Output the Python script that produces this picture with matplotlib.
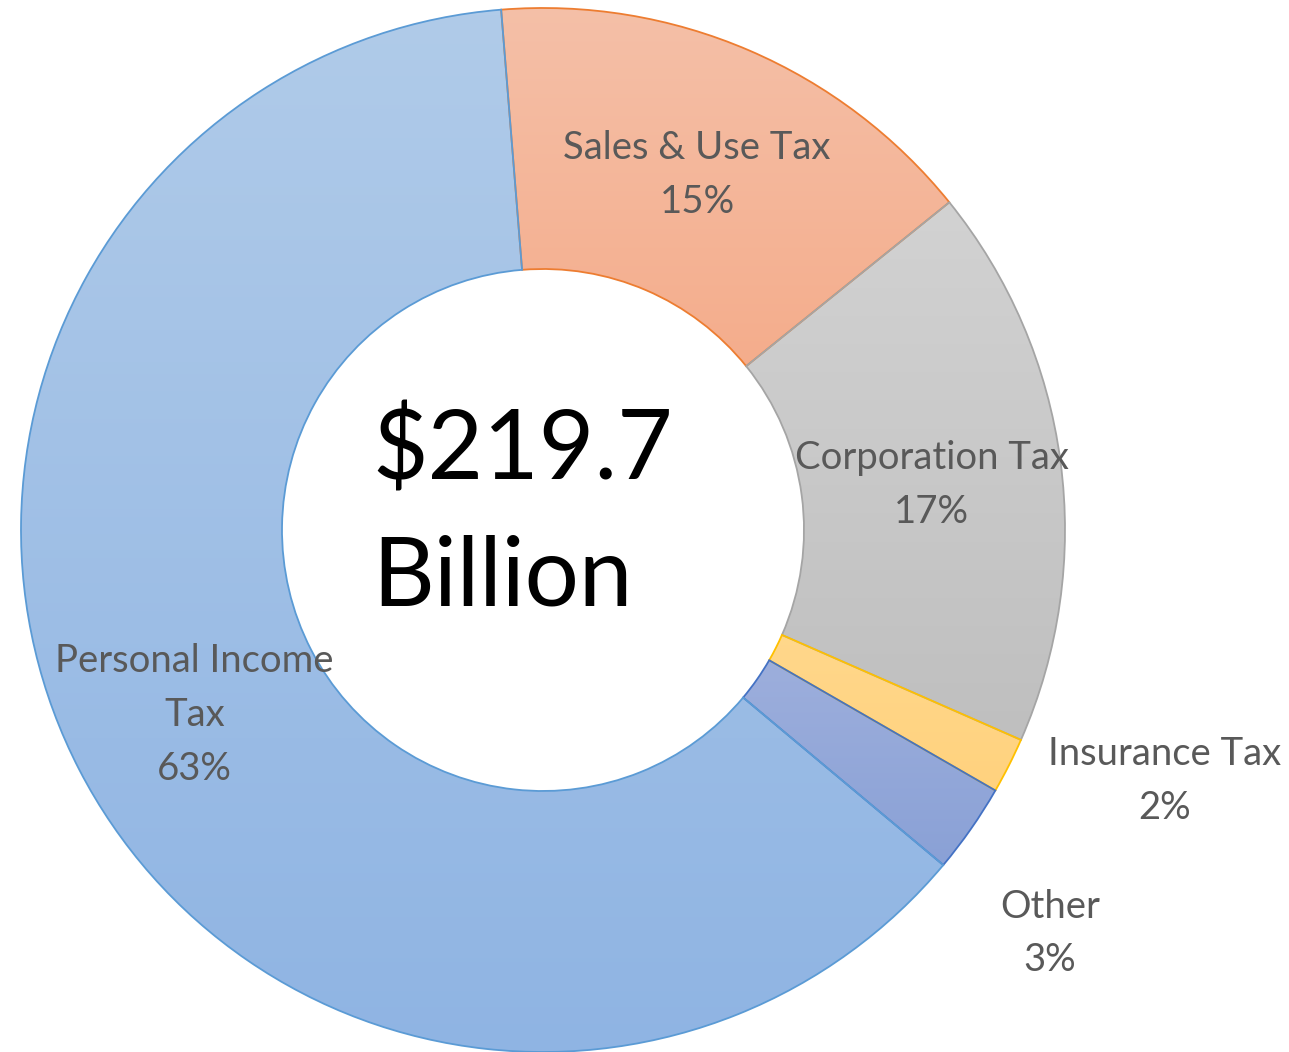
import numpy as np
import matplotlib
matplotlib.use("Agg")
import matplotlib.pyplot as plt
from matplotlib.colors import LinearSegmentedColormap

# Revenue by source, $ billions (total 219.7)
categories = ["Sales & Use Tax", "Corporation Tax", "Insurance Tax", "Other", "Personal Income Tax"]
values = [34.0, 38.2, 3.8, 6.1, 137.6]
label_text = ["Sales & Use Tax", "Corporation Tax", "Insurance Tax", "Other", "Personal Income\nTax"]
center_lines = ["$219.7", "Billion"]

# Gradient fill (top colour, bottom colour) and outline for each slice
top_colors = ["#F5C0A8", "#D2D2D2", "#FFDB94", "#A9B7E0", "#B0CBE9"]
bottom_colors = ["#F4A47F", "#BFBFBF", "#FFD27E", "#8AA1D6", "#8FB4E3"]
edge_colors = ["#ED7D31", "#A5A5A5", "#FFC000", "#4472C4", "#5B9BD5"]

# Label anchor points in data units (pie radius = 1)
label_pos = [(0.295, 0.680), (0.745, 0.087), (1.190, -0.480), (0.971, -0.773), (-0.668, -0.355)]

plt.rcParams["font.family"] = ["Lato", "DejaVu Sans"]

W, H, DPI = 1289, 1052, 100
fig = plt.figure(figsize=(W / DPI, H / DPI), dpi=DPI)
R_px = 522
cx, cy = 543, 1052 - 530
ax = fig.add_axes([(cx - R_px) / W, (cy - R_px) / H, 2 * R_px / W, 2 * R_px / H])
ax.set_xlim(-1, 1)
ax.set_ylim(-1, 1)
ax.set_aspect("equal")
ax.axis("off")

total = sum(values)
start = 90 + 4.6
wedges, _ = ax.pie(values, radius=1.0, startangle=start, counterclock=False,
                   wedgeprops=dict(width=0.5, linewidth=1.3),
                   labels=None)

for w, tc, bc, ec in zip(wedges, top_colors, bottom_colors, edge_colors):
    w.set_facecolor("none")
    w.set_edgecolor(ec)
    w.set_zorder(3)
    verts = w.get_path().vertices
    x0, x1 = verts[:, 0].min(), verts[:, 0].max()
    y0, y1 = verts[:, 1].min(), verts[:, 1].max()
    cmap = LinearSegmentedColormap.from_list("g", [bc, tc])
    grad = np.linspace(0, 1, 256).reshape(-1, 1)
    im = ax.imshow(grad, cmap=cmap, origin="lower", extent=(x0, x1, y0, y1),
                   aspect="auto", zorder=2, interpolation="bilinear")
    im.set_clip_path(w)

ax.set_xlim(-1, 1)
ax.set_ylim(-1, 1)

for txt, v, (lx, ly) in zip(label_text, values, label_pos):
    pct = round(100 * v / total)
    ax.text(lx, ly, f"{txt}\n{pct}%", ha="center", va="center", fontsize=27.5,
            color="#595959", linespacing=1.62, zorder=5)

# Centre caption, one line per baseline
for line, by in zip(center_lines, [0.0958, -0.1437]):
    ax.text(-0.327, by, line, ha="left", va="baseline", fontsize=69,
            color="black", zorder=5)

fig.savefig("out.png", dpi=DPI)
